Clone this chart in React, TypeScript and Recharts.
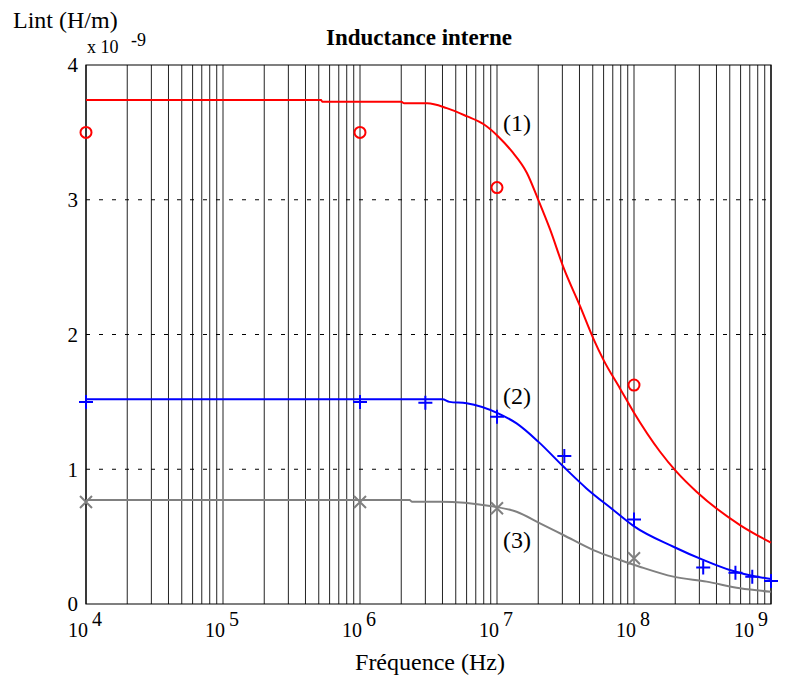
import React from "react"
import {
  ComposedChart,
  Line,
  Scatter,
  XAxis,
  YAxis,
  CartesianGrid,
  ReferenceArea,
} from "recharts"

// frequency (Hz) / internal inductance (x 1e-9 H/m)
const curve1Freq = [1e4, 5.2e5, 5.3e5, 2e6, 2.1e6, 3.1e6, 4.3e6, 6e6, 8e6, 1.02e7, 1.28e7, 1.65e7, 2e7, 2.44e7, 3.05e7, 4.04e7, 5.05e7, 6.0e7, 7.9e7, 9.9e7, 1.55e8, 2.04e8, 2.86e8, 5.94e8, 1e9]
const curve1Vals = [3.74, 3.74, 3.728, 3.728, 3.716, 3.716, 3.68, 3.62, 3.56, 3.47, 3.36, 3.2, 3.0, 2.78, 2.5, 2.21, 1.97, 1.81, 1.6, 1.427, 1.13, 0.982, 0.833, 0.586, 0.455]

const curve2Freq = [1e4, 4e6, 4.5e6, 6e6, 1.02e7, 1.39e7, 2e7, 3.05e7, 4.5e7, 7.06e7, 9.9e7, 1.94e8, 3.2e8, 5e8, 7.85e8, 1e9]
const curve2Vals = [1.52, 1.52, 1.5, 1.49, 1.415, 1.34, 1.205, 1.02, 0.858, 0.698, 0.58, 0.425, 0.327, 0.252, 0.203, 0.186]

const curve3Freq = [1e4, 2.3e6, 2.4e6, 3.84e6, 8.9e6, 1.39e7, 2.06e7, 3.05e7, 5.05e7, 7.9e7, 1.1e8, 1.94e8, 3.39e8, 5.94e8, 1e9]
const curve3Vals = [0.772, 0.772, 0.759, 0.759, 0.727, 0.685, 0.599, 0.512, 0.4, 0.327, 0.277, 0.203, 0.166, 0.117, 0.091]

const meas1Freq = [1e4, 1e6, 1e7, 1e8]
const meas1Vals = [3.5, 3.5, 3.09, 1.625]

const meas2Freq = [1e4, 1e6, 3e6, 1e7, 3.1e7, 1e8, 3.2e8, 5.5e8, 7.3e8, 1e9]
const meas2Vals = [1.5, 1.5, 1.494, 1.39, 1.098, 0.628, 0.27, 0.232, 0.203, 0.17]

const meas3Freq = [1e4, 1e6, 1e7, 1e8]
const meas3Vals = [0.757, 0.757, 0.71, 0.339]

const xTicks = [1e4, 1e5, 1e6, 1e7, 1e8, 1e9]
const yTicks = [0, 1, 2, 3, 4]
const gridMultipliers = [1, 2, 3, 4, 5, 6, 7, 8, 9]

const zip = (fs: number[], vs: number[]) => fs.map((f, i) => ({ f, v: vs[i] }))

const serif = '"Liberation Serif", "Times New Roman", serif'

const XTick = ({ x, payload }: any) => {
  const exp = Math.round(Math.log10(payload.value))
  return (
    <g fontFamily={serif} fill="#000">
      <text x={x + 2} y={637} textAnchor="end" fontSize={20}>10</text>
      <text x={x + 6} y={626} fontSize={20}>{exp}</text>
    </g>
  )
}

const YTick = ({ y, payload }: any) => (
  <text x={78} y={y} dy="0.35em" textAnchor="end" fontSize={21} fontFamily={serif} fill="#000">
    {payload.value}
  </text>
)

const Circle = ({ cx, cy }: any) => (
  <circle cx={cx} cy={cy} r={5.5} fill="none" stroke="#ff0000" strokeWidth={2} />
)

const Plus = ({ cx, cy }: any) => (
  <path d={`M${cx - 7},${cy}H${cx + 7}M${cx},${cy - 7}V${cy + 7}`} stroke="#0000ff" strokeWidth={2} />
)

const Cross = ({ cx, cy }: any) => (
  <path d={`M${cx - 6},${cy - 6}L${cx + 6},${cy + 6}M${cx - 6},${cy + 6}L${cx + 6},${cy - 6}`} stroke="#808080" strokeWidth={2} />
)

const decadeGrid = xTicks.slice(0, -1).flatMap((d) => gridMultipliers.map((m) => d * m)).concat([1e9])

export default function App() {
  return (
    <div style={{ position: "absolute", left: 0, top: 0, width: 792, height: 680, background: "#fff" }}>
      <ComposedChart width={792} height={680} margin={{ top: 65, right: 21, bottom: 0, left: 0 }}>
        <CartesianGrid
          horizontal={false}
          stroke="#222"
          verticalCoordinatesGenerator={({ offset }: any) =>
            decadeGrid.map((f) => offset.left + ((Math.log10(f) - 4) / 5) * offset.width)
          }
        />
        <CartesianGrid
          vertical={false}
          stroke="#000"
          strokeDasharray="4 9"
          horizontalCoordinatesGenerator={({ offset }: any) =>
            [1, 2, 3].map((v) => offset.top + offset.height * (1 - v / 4))
          }
        />
        <XAxis
          dataKey="f"
          type="number"
          scale="log"
          domain={[1e4, 1e9]}
          ticks={xTicks}
          height={76}
          axisLine={false}
          tickLine={false}
          tick={<XTick />}
        />
        <YAxis
          type="number"
          domain={[0, 4]}
          ticks={yTicks}
          width={86}
          axisLine={false}
          tickLine={false}
          tick={<YTick />}
        />
        <ReferenceArea x1={1e4} x2={1e9} y1={0} y2={4} fill="none" fillOpacity={0} stroke="#000" strokeWidth={1.2} />
        <Line data={zip(curve1Freq, curve1Vals)} dataKey="v" stroke="#ff0000" strokeWidth={2} dot={false} type="monotone" isAnimationActive={false} />
        <Line data={zip(curve2Freq, curve2Vals)} dataKey="v" stroke="#0000ff" strokeWidth={2} dot={false} type="monotone" isAnimationActive={false} />
        <Line data={zip(curve3Freq, curve3Vals)} dataKey="v" stroke="#808080" strokeWidth={2} dot={false} type="monotone" isAnimationActive={false} />
        <Scatter data={zip(meas1Freq, meas1Vals)} dataKey="v" shape={<Circle />} isAnimationActive={false} />
        <Scatter data={zip(meas2Freq, meas2Vals)} dataKey="v" shape={<Plus />} isAnimationActive={false} />
        <Scatter data={zip(meas3Freq, meas3Vals)} dataKey="v" shape={<Cross />} isAnimationActive={false} />
      </ComposedChart>
      <svg width={792} height={680} style={{ position: "absolute", left: 0, top: 0, pointerEvents: "none" }} fontFamily={serif} fill="#000">
        <text x={13} y={28} fontSize={24}>Lint (H/m)</text>
        <text x={87} y={53} fontSize={18}>x 10</text>
        <text x={131} y={46} fontSize={18}>-9</text>
        <text x={419} y={45} fontSize={23} fontWeight="bold" textAnchor="middle">Inductance interne</text>
        <text x={430} y={670} fontSize={24} textAnchor="middle">Fréquence (Hz)</text>
        <text x={503} y={131} fontSize={24}>(1)</text>
        <text x={503} y={404} fontSize={24}>(2)</text>
        <text x={503} y={548} fontSize={24}>(3)</text>
      </svg>
    </div>
  )
}
